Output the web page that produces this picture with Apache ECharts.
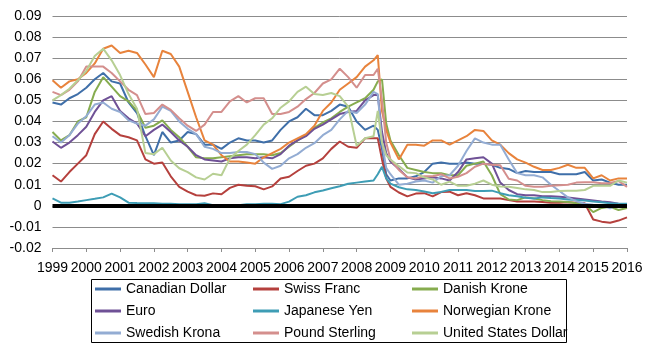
<!DOCTYPE html>
<html>
<head>
<meta charset="utf-8">
<script src="https://cdn.jsdelivr.net/npm/echarts@6/dist/echarts.min.js"></script>
<style>
html,body{margin:0;padding:0;background:#fff;}
#chart{width:650px;height:356px;}
</style>
</head>
<body>
<div id="chart"></div>
<script>
// Time points (fractional years)
const times = [
  1999, 1999.25, 1999.5, 1999.75,
  2000, 2000.25, 2000.5, 2000.75,
  2001, 2001.25, 2001.5, 2001.75,
  2002, 2002.25, 2002.5, 2002.75,
  2003, 2003.25, 2003.5, 2003.75,
  2004, 2004.25, 2004.5, 2004.75,
  2005, 2005.25, 2005.5, 2005.75,
  2006, 2006.25, 2006.5, 2006.75,
  2007, 2007.25, 2007.5, 2007.75,
  2008, 2008.25, 2008.5, 2008.625, 2008.75, 2008.875,
  2009, 2009.25, 2009.5, 2009.75,
  2010, 2010.25, 2010.5, 2010.75,
  2011, 2011.25, 2011.5, 2011.75,
  2012, 2012.25, 2012.5, 2012.75,
  2013, 2013.25, 2013.5, 2013.75,
  2014, 2014.25, 2014.5, 2014.75,
  2015, 2015.25, 2015.5, 2015.75,
  2016
];

const canadianDollar = [
  0.049, 0.048, 0.051, 0.053,
  0.056, 0.060, 0.063, 0.059,
  0.058, 0.049, 0.044, 0.033,
  0.024, 0.035, 0.030, 0.031,
  0.035, 0.034, 0.029, 0.029,
  0.027, 0.030, 0.032, 0.031,
  0.031, 0.030, 0.031, 0.036,
  0.040, 0.042, 0.046, 0.043,
  0.043, 0.045, 0.048, 0.047,
  0.040, 0.036, 0.038, 0.036, 0.027, 0.015,
  0.012, 0.013, 0.013, 0.014,
  0.016, 0.020, 0.0205, 0.020,
  0.020, 0.0205, 0.020, 0.020,
  0.0195, 0.018, 0.0175, 0.0155,
  0.0165, 0.016, 0.016, 0.016,
  0.015, 0.015, 0.015, 0.016,
  0.012, 0.0125, 0.011, 0.010,
  0.010
];

const swissFranc = [
  0.0145, 0.0115, 0.016, 0.020,
  0.024, 0.034, 0.040, 0.0365,
  0.0335, 0.0325, 0.031, 0.022,
  0.020, 0.0205, 0.014, 0.009,
  0.0067, 0.005, 0.0048, 0.0059,
  0.0055, 0.0085, 0.010, 0.0095,
  0.0093, 0.0078, 0.0092, 0.013,
  0.0138, 0.0165, 0.019, 0.020,
  0.0225, 0.027, 0.0305, 0.028,
  0.0275, 0.032, 0.032, 0.032, 0.022, 0.013,
  0.009, 0.0063, 0.0045, 0.0058,
  0.006, 0.0045, 0.0065, 0.0067,
  0.005, 0.006, 0.005, 0.0035,
  0.0035, 0.0035, 0.0027, 0.002,
  0.002, 0.002, 0.0018, 0.0015,
  0.0015, 0.0017, 0.0015, 0.0012,
  -0.0065, -0.0075, -0.008, -0.007,
  -0.0055
];

const danishKrone = [
  0.035, 0.031, 0.0335, 0.040,
  0.042, 0.054, 0.061, 0.0565,
  0.052, 0.0495, 0.045, 0.037,
  0.038, 0.0405, 0.036, 0.0325,
  0.028, 0.023, 0.0225, 0.0225,
  0.023, 0.0235, 0.024, 0.0245,
  0.0245, 0.0245, 0.024, 0.025,
  0.028, 0.031, 0.0335, 0.037,
  0.0395, 0.0415, 0.0445, 0.047,
  0.049, 0.051, 0.055, 0.059, 0.060, 0.039,
  0.031, 0.024, 0.018, 0.017,
  0.016, 0.0155, 0.0155, 0.0145,
  0.0145, 0.019, 0.020, 0.021,
  0.0145, 0.0055, 0.003, 0.0027,
  0.004, 0.0035, 0.0027, 0.0022,
  0.002, 0.0018, 0.0012, 0.0008,
  -0.003, -0.001, -0.0005, -0.002,
  -0.001
];

const euro = [
  0.0305, 0.0275, 0.030, 0.0335,
  0.0375, 0.0445, 0.050, 0.052,
  0.045, 0.0415, 0.039, 0.033,
  0.036, 0.0385, 0.035, 0.031,
  0.028, 0.024, 0.022, 0.0215,
  0.021, 0.0225, 0.023, 0.023,
  0.0225, 0.023, 0.0225, 0.0245,
  0.0285, 0.031, 0.033, 0.0365,
  0.0385, 0.041, 0.0435, 0.0445,
  0.045, 0.050, 0.0525, 0.0525, 0.035, 0.025,
  0.021, 0.0175, 0.0135, 0.0125,
  0.013, 0.0135, 0.013, 0.012,
  0.016, 0.022, 0.0225, 0.023,
  0.020, 0.011, 0.0075, 0.0055,
  0.005, 0.005, 0.0045, 0.0045,
  0.0043, 0.004, 0.0035, 0.003,
  0.0025, 0.002, 0.0017, 0.001,
  0.0005
];

const japaneseYen = [
  0.0035, 0.0015, 0.0015, 0.002,
  0.0027, 0.0033, 0.004, 0.0058,
  0.004, 0.0015, 0.0013, 0.0012,
  0.0012, 0.001, 0.001, 0.0008,
  0.0008, 0.0008, 0.0012, 0.0003,
  0.0002, 0.0002, 0.0003, 0.0008,
  0.0008, 0.001, 0.001, 0.0008,
  0.002, 0.0043, 0.005, 0.0064,
  0.0073, 0.0083, 0.0093, 0.0105,
  0.011, 0.0115, 0.012, 0.015, 0.0185, 0.013,
  0.0105, 0.0088, 0.0078, 0.0075,
  0.0068, 0.006, 0.0066, 0.0075,
  0.0075, 0.0075, 0.007, 0.007,
  0.0072, 0.006, 0.005, 0.0045,
  0.0038, 0.0035, 0.004, 0.0037,
  0.0035, 0.003, 0.0027, 0.0025,
  0.002, 0.0017, 0.0012, 0.001,
  0.001
];

const norwegianKrone = [
  0.0595, 0.056, 0.059, 0.060,
  0.063, 0.0675, 0.0745, 0.076,
  0.0725, 0.0735, 0.0725, 0.067,
  0.061, 0.0735, 0.072, 0.066,
  0.054, 0.042, 0.031, 0.029,
  0.024, 0.021, 0.021, 0.0205,
  0.020, 0.023, 0.025, 0.027,
  0.030, 0.032, 0.034, 0.038,
  0.045, 0.049, 0.055, 0.058,
  0.061, 0.066, 0.069, 0.0715, 0.045, 0.036,
  0.030, 0.022, 0.029, 0.029,
  0.0285, 0.031, 0.031, 0.029,
  0.031, 0.033, 0.036, 0.0355,
  0.031, 0.029, 0.025, 0.022,
  0.0205, 0.0185, 0.017, 0.017,
  0.018, 0.0195, 0.018, 0.018,
  0.013, 0.0145, 0.012, 0.013,
  0.013
];

const swedishKrona = [
  0.033, 0.030, 0.0335, 0.039,
  0.0425, 0.048, 0.049, 0.046,
  0.0445, 0.0405, 0.039, 0.038,
  0.041, 0.047, 0.045, 0.040,
  0.0365, 0.034, 0.028, 0.027,
  0.025, 0.025, 0.0255, 0.0255,
  0.0245, 0.0205, 0.0175, 0.019,
  0.0225, 0.0245, 0.0275, 0.0297,
  0.0335, 0.036, 0.041, 0.045,
  0.044, 0.048, 0.054, 0.053, 0.030, 0.018,
  0.015, 0.010, 0.0105, 0.0115,
  0.012, 0.011, 0.014, 0.0145,
  0.019, 0.026, 0.032, 0.030,
  0.029, 0.029, 0.022, 0.0155,
  0.0145, 0.0145, 0.0135, 0.010,
  0.007, 0.004, 0.0022, 0.001,
  0.0005, 0.0003, -0.0012, 0.0005,
  -0.0003
];

const poundSterling = [
  0.054, 0.0525, 0.055, 0.059,
  0.066, 0.066, 0.066, 0.063,
  0.059, 0.055, 0.0525, 0.0435,
  0.044, 0.048, 0.0455, 0.0415,
  0.038, 0.0355, 0.0385, 0.0445,
  0.0445, 0.0495, 0.052, 0.049,
  0.051, 0.051, 0.0435, 0.0435,
  0.0445, 0.047, 0.0506, 0.0535,
  0.058, 0.060, 0.065, 0.061,
  0.056, 0.062, 0.062, 0.065, 0.050, 0.030,
  0.022, 0.017, 0.0135, 0.013,
  0.014, 0.014, 0.015, 0.013,
  0.0138, 0.0155, 0.0185, 0.020,
  0.0195, 0.0192, 0.0128, 0.012,
  0.0095, 0.009, 0.009, 0.0095,
  0.0098, 0.010, 0.011, 0.0112,
  0.0112, 0.0107, 0.0108, 0.0118,
  0.009
];

const usDollar = [
  0.050, 0.0525, 0.0555, 0.0595,
  0.064, 0.071, 0.0745, 0.069,
  0.062, 0.053, 0.046, 0.025,
  0.0245, 0.0275, 0.0215, 0.0178,
  0.016, 0.0135, 0.0125, 0.0152,
  0.0145, 0.0225, 0.026, 0.029,
  0.0335, 0.0385, 0.0415, 0.0465,
  0.0495, 0.054, 0.0565, 0.053,
  0.0525, 0.0535, 0.052, 0.047,
  0.0285, 0.032, 0.033, 0.045, 0.030, 0.024,
  0.022, 0.0188, 0.0158, 0.0155,
  0.0135, 0.0125, 0.010, 0.0115,
  0.0095, 0.0095, 0.0105, 0.012,
  0.010, 0.0092, 0.009, 0.0085,
  0.0078, 0.0075, 0.0065, 0.0065,
  0.007, 0.0072, 0.0072, 0.0075,
  0.0095, 0.0095, 0.0095, 0.012,
  0.011
];

const seriesNames = ['Canadian Dollar','Swiss Franc','Danish Krone','Euro','Japanese Yen','Norwegian Krone','Swedish Krona','Pound Sterling','United States Dollar'];
const seriesValues = [canadianDollar, swissFranc, danishKrone, euro, japaneseYen, norwegianKrone, swedishKrona, poundSterling, usDollar];
const seriesColors = ['#3F6FA9','#B5403D','#86AC4F','#6F5196','#3E9DB5','#E8833C','#93ACD3','#D48F8D','#B7CF93'];

const FONT = '"Liberation Sans", Arial, Helvetica, sans-serif';
const chart = echarts.init(document.getElementById('chart'), null, {renderer: 'canvas'});

const series = seriesNames.map((name, k) => {
  const s = {
    name: name,
    type: 'line',
    data: times.map((t, i) => [t, seriesValues[k][i]]),
    symbol: 'none',
    showSymbol: false,
    lineStyle: {width: 2, color: seriesColors[k]},
    itemStyle: {color: seriesColors[k]},
    emphasis: {disabled: true},
    animation: false
  };
  if (k === seriesNames.length - 1) {
    s.markLine = {
      silent: true,
      symbol: ['none', 'none'],
      label: {show: false},
      lineStyle: {color: '#000', width: 4, type: 'solid'},
      data: [{yAxis: 0}],
      animation: false
    };
  }
  return s;
});

const legendBase = {
  orient: 'vertical',
  top: 282,
  padding: 0,
  itemWidth: 26,
  itemHeight: 3,
  itemGap: 8,
  icon: 'rect',
  selectedMode: false,
  textStyle: {fontSize: 14, color: '#000', fontFamily: FONT}
};

chart.setOption({
  animation: false,
  backgroundColor: '#fff',
  grid: {left: 52.5, right: 23, top: 16, bottom: 108},
  xAxis: {
    type: 'value',
    min: 1999, max: 2016, interval: 1,
    axisLine: {show: true, onZero: false, lineStyle: {color: '#8c8c8c', width: 1}},
    axisTick: {show: true, length: 4, lineStyle: {color: '#8c8c8c'}},
    splitLine: {show: false},
    axisLabel: {
      fontSize: 14, color: '#000', fontFamily: FONT, margin: 13,
      formatter: v => String(Math.round(v))
    }
  },
  yAxis: {
    type: 'value',
    min: -0.02, max: 0.09, interval: 0.01,
    axisLine: {show: false},
    axisTick: {show: false},
    splitLine: {show: true, lineStyle: {color: '#8c8c8c', width: 1}},
    axisLabel: {
      fontSize: 14, color: '#000', fontFamily: FONT, margin: 11,
      formatter: v => Math.abs(v) < 1e-9 ? '0' : v.toFixed(2)
    }
  },
  legend: [
    Object.assign({}, legendBase, {left: 95, data: ['Canadian Dollar', 'Euro', 'Swedish Krona']}),
    Object.assign({}, legendBase, {left: 253, data: ['Swiss Franc', 'Japanese Yen', 'Pound Sterling']}),
    Object.assign({}, legendBase, {left: 412, data: ['Danish Krone', 'Norwegian Krone', 'United States Dollar']})
  ],
  graphic: [{
    type: 'rect',
    silent: true,
    shape: {x: 91.5, y: 279.5, width: 475, height: 63},
    style: {fill: 'none', stroke: '#000', lineWidth: 1}
  }],
  series: series
});
</script>
</body>
</html>
